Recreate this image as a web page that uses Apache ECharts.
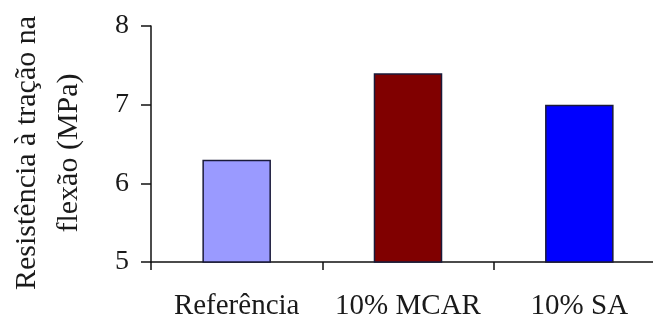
<!DOCTYPE html>
<html>
<head>
<meta charset="utf-8">
<script src="https://cdn.jsdelivr.net/npm/echarts@6/dist/echarts.min.js"></script>
<style>
  html, body { margin: 0; padding: 0; background: #fff; }
  #chart { width: 653px; height: 321px; }
</style>
</head>
<body>
<div id="chart"></div>
<script>
// Flexural tensile strength by mix
const categories = ['Referência', '10% MCAR', '10% SA'];
const strengthMPa = [6.3, 7.4, 7.0];
const barColors = ['#9a9aff', '#800000', '#0000ff'];
const yTicks = { min: 5, max: 8, interval: 1 };
const yAxisTitle = 'Resistência à tração na\nflexão (MPa)';

const serif = '"Liberation Serif", "DejaVu Serif", serif';

const chart = echarts.init(document.getElementById('chart'), null, { renderer: 'canvas' });
chart.setOption({
  backgroundColor: '#ffffff',
  animation: false,
  grid: { left: 151, top: 26, bottom: 59, width: 514, outerBoundsMode: 'none', containLabel: false },
  xAxis: {
    type: 'category',
    data: categories,
    axisLine: { show: true, lineStyle: { color: '#111', width: 1.5 } },
    axisTick: { show: true, alignWithLabel: false, length: 8, lineStyle: { color: '#111', width: 1.5 } },
    axisLabel: { color: '#1a1a1a', fontFamily: serif, fontSize: 29, margin: 30, interval: 0 }
  },
  yAxis: {
    type: 'value',
    min: yTicks.min,
    max: yTicks.max,
    interval: yTicks.interval,
    name: yAxisTitle,
    nameLocation: 'middle',
    nameRotate: 90,
    nameGap: 61,
    nameTextStyle: { color: '#1a1a1a', fontFamily: serif, fontSize: 30, lineHeight: 42, align: 'center', padding: [0, 18, 0, 0] },
    splitLine: { show: false },
    axisLine: { show: true, lineStyle: { color: '#111', width: 1.5 } },
    axisTick: { show: true, length: 10, lineStyle: { color: '#111', width: 1.5 } },
    axisLabel: { color: '#1a1a1a', fontFamily: serif, fontSize: 28, margin: 22, padding: [6, 0, 0, 0] }
  },
  series: [{
    type: 'bar',
    barWidth: '40%',
    data: strengthMPa.map((v, i) => ({
      value: v,
      itemStyle: { color: barColors[i], borderColor: '#1a1a3a', borderWidth: 1.5 }
    }))
  }]
});
</script>
</body>
</html>
